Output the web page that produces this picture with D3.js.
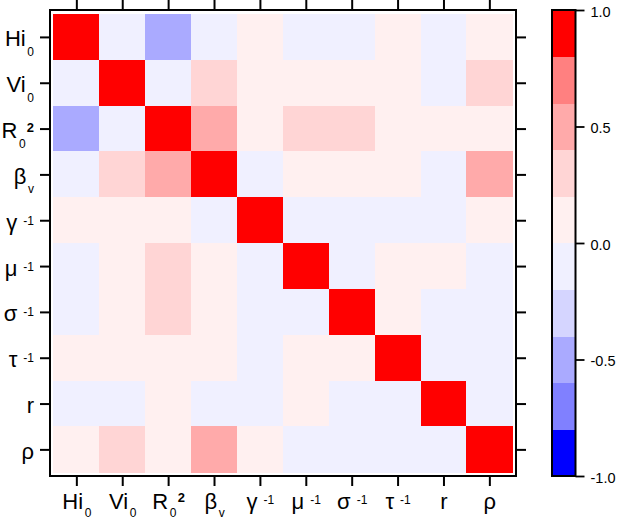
<!DOCTYPE html>
<html>
<head>
<meta charset="utf-8">
<script src="https://cdn.jsdelivr.net/npm/d3@7"></script>
<style>
  html, body { margin: 0; padding: 0; background: #fff; }
  svg { display: block; font-family: "Liberation Sans", Arial, Helvetica, sans-serif; }
</style>
</head>
<body>
<svg id="chart" width="617" height="520"></svg>
<script>
// ---- data ----
const labelBase = ["Hi", "Vi", "R", "β", "γ", "μ", "σ", "τ", "r", "ρ"];
const labelSub  = ["0", "0", "0", "v", "", "", "", "", "", ""];
const labelSup  = ["", "", "2", "", "-1", "-1", "-1", "-1", "", ""];

const rowHi0 = [ 1.00, -0.08, -0.45, -0.06,  0.05, -0.07, -0.07,  0.04, -0.05,  0.06];
const rowVi0 = [-0.08,  1.00, -0.04,  0.28,  0.08,  0.06,  0.07,  0.05, -0.06,  0.27];
const rowR0  = [-0.45, -0.04,  1.00,  0.45,  0.06,  0.25,  0.24,  0.08,  0.05,  0.07];
const rowBv  = [-0.06,  0.28,  0.45,  1.00, -0.05,  0.09,  0.08,  0.07, -0.04,  0.42];
const rowGam = [ 0.05,  0.08,  0.06, -0.05,  1.00, -0.06, -0.05, -0.04, -0.06,  0.07];
const rowMu  = [-0.07,  0.06,  0.25,  0.09, -0.06,  1.00, -0.08,  0.05,  0.06, -0.05];
const rowSig = [-0.07,  0.07,  0.24,  0.08, -0.05, -0.08,  1.00,  0.06, -0.04, -0.06];
const rowTau = [ 0.04,  0.05,  0.08,  0.07, -0.04,  0.05,  0.06,  1.00, -0.05, -0.07];
const rowR   = [-0.05, -0.06,  0.05, -0.04, -0.06,  0.06, -0.04, -0.05,  1.00, -0.06];
const rowRho = [ 0.06,  0.27,  0.07,  0.42,  0.07, -0.05, -0.06, -0.07, -0.06,  1.00];
const corr = [rowHi0, rowVi0, rowR0, rowBv, rowGam, rowMu, rowSig, rowTau, rowR, rowRho];

const cbTickValues = [1, 0.5, 0, -0.5, -1];
const cbTickLabels = ["1.0", "0.5", "0.0", "-0.5", "-1.0"];
const binThresholds = [-0.8, -0.6, -0.4, -0.2, 0, 0.2, 0.4, 0.6, 0.8];
const binColors = ["#0000FF", "#8080FF", "#AAAAFF", "#D5D5FF", "#F0F0FF",
                   "#FFF0F0", "#FFD5D5", "#FFAAAA", "#FF8080", "#FF0000"];

// ---- drawing ----
const svg = d3.select("#chart");
const n = labelBase.length;
const idx = d3.range(n);

const x = d3.scaleBand().domain(idx).range([53.4, 512.3]);
const y = d3.scaleBand().domain(idx).range([14, 472.3]);
const color = d3.scaleThreshold().domain(binThresholds).range(binColors);

const cells = [];
corr.forEach((row, i) => row.forEach((v, j) => cells.push({ i, j, v })));

svg.append("g").selectAll("rect").data(cells).join("rect")
  .attr("x", d => x(d.j))
  .attr("y", d => y(d.i))
  .attr("width", x.bandwidth() + 0.3)
  .attr("height", y.bandwidth() + 0.3)
  .attr("fill", d => color(d.v))
  .attr("shape-rendering", "crispEdges");

// frame
const fx0 = 50, fy0 = 10, fx1 = 516, fy1 = 476;
svg.append("rect")
  .attr("x", fx0).attr("y", fy0).attr("width", fx1 - fx0).attr("height", fy1 - fy0)
  .attr("fill", "none").attr("stroke", "#000").attr("stroke-width", 2);

function richLabel(textSel, i, subDy) {
  textSel.text(null);
  textSel.append("tspan").text(labelBase[i]);
  if (labelSub[i]) {
    textSel.append("tspan").attr("dx", 1.6).attr("dy", subDy)
      .style("font-size", "12px").text(labelSub[i]);
  }
  if (labelSup[i]) {
    if (labelSub[i]) {
      textSel.append("tspan").attr("dx", 1.2).attr("dy", -subDy - 6.5)
        .style("font-size", "13px").style("font-weight", "bold").text(labelSup[i]);
    } else {
      textSel.append("tspan").attr("dx", 6).attr("dy", -5)
        .style("font-size", "12px").text(labelSup[i]);
    }
  }
}

function styleAxis(g) {
  g.select(".domain").remove();
  g.selectAll(".tick line").attr("stroke", "#000").attr("stroke-width", 2);
}

const xCenter = d3.scalePoint().domain(idx).range([x(0) + x.bandwidth() / 2, x(n - 1) + x.bandwidth() / 2]);
const yCenter = d3.scalePoint().domain(idx).range([y(0) + y.bandwidth() / 2, y(n - 1) + y.bandwidth() / 2]);

// bottom axis
const gB = svg.append("g").attr("transform", `translate(0,${fy1})`)
  .call(d3.axisBottom(xCenter).tickSize(10).tickSizeOuter(0).tickFormat(i => labelBase[i]))
  .call(styleAxis);
gB.selectAll(".tick text")
  .attr("y", 32.5).attr("dy", null)
  .style("font-size", "22px").attr("fill", "#000")
  .each(function(i) { richLabel(d3.select(this), i, 8); });

// top axis
svg.append("g").attr("transform", `translate(0,${fy0})`)
  .call(d3.axisTop(xCenter).tickSize(10).tickSizeOuter(0).tickFormat(() => ""))
  .call(styleAxis);

// left axis
const gL = svg.append("g").attr("transform", `translate(${fx0},0)`)
  .call(d3.axisLeft(yCenter).tickSize(10).tickSizeOuter(0).tickFormat(i => labelBase[i]))
  .call(styleAxis);
gL.selectAll(".tick text")
  .attr("x", -16).attr("y", 9).attr("dy", null)
  .style("font-size", "22px").attr("fill", "#000")
  .each(function(i) { richLabel(d3.select(this), i, 9.5); });

// right axis
svg.append("g").attr("transform", `translate(${fx1},0)`)
  .call(d3.axisRight(yCenter).tickSize(10).tickSizeOuter(0).tickFormat(() => ""))
  .call(styleAxis);

// colorbar
const cbX0 = 552, cbX1 = 575.5;
const cbY = d3.scaleLinear().domain([-1, 1]).range([476, 10]);
const bins = binColors.map((c, k) => ({ lo: k === 0 ? -1 : binThresholds[k - 1], hi: k === n - 1 ? 1 : binThresholds[k], c }));
svg.append("g").selectAll("rect").data(bins).join("rect")
  .attr("x", cbX0).attr("width", cbX1 - cbX0)
  .attr("y", d => cbY(d.hi))
  .attr("height", d => cbY(d.lo) - cbY(d.hi) + 0.3)
  .attr("fill", d => d.c)
  .attr("shape-rendering", "crispEdges");
svg.append("rect")
  .attr("x", cbX0).attr("y", cbY(1)).attr("width", cbX1 - cbX0).attr("height", cbY(-1) - cbY(1))
  .attr("fill", "none").attr("stroke", "#000").attr("stroke-width", 2);

const gC = svg.append("g").attr("transform", `translate(${cbX1},0)`)
  .call(d3.axisRight(cbY).tickValues(cbTickValues).tickSize(9).tickPadding(6)
    .tickFormat((v, k) => cbTickLabels[k]))
  .call(styleAxis);
gC.selectAll(".tick line").attr("stroke-width", 1.8);
gC.selectAll(".tick text").style("font-size", "14.5px").attr("fill", "#000").attr("dy", "0.42em");
</script>
</body>
</html>
